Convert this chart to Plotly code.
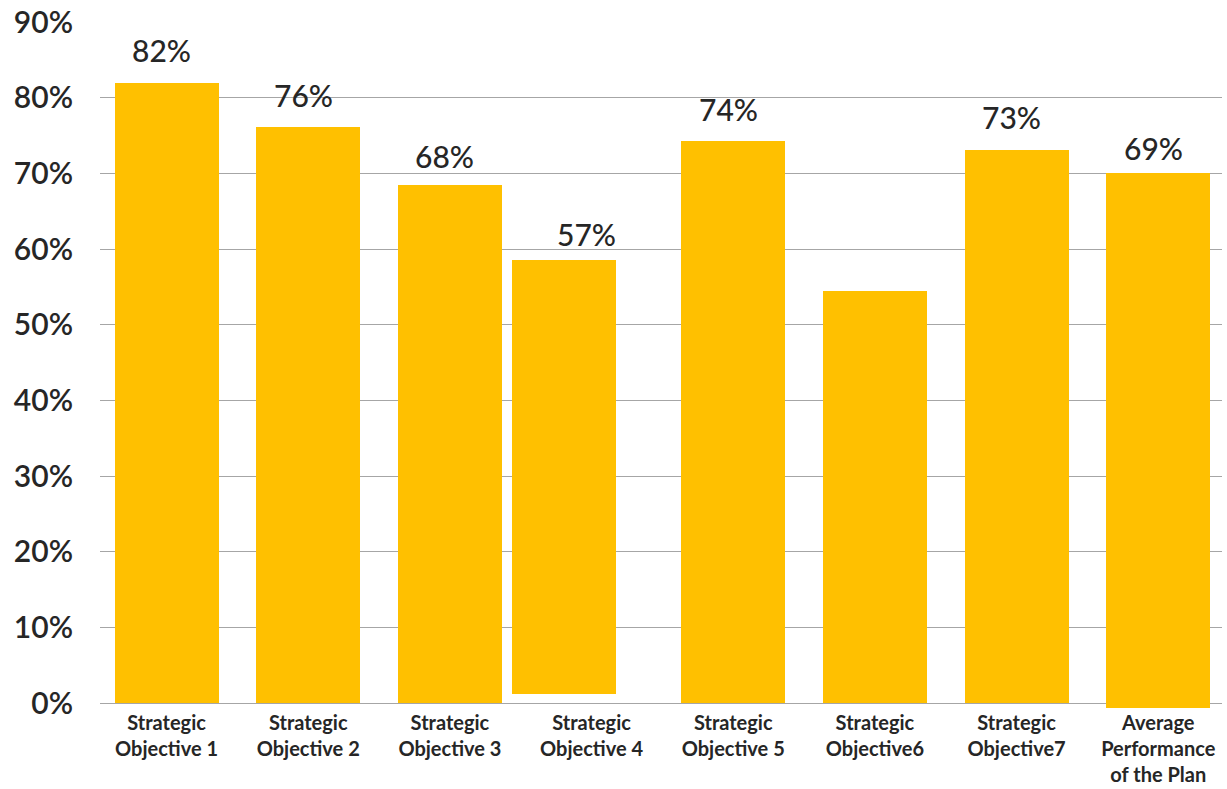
import plotly.graph_objects as go

# ---- data ----
categories = [
    "Strategic<br>Objective 1",
    "Strategic<br>Objective 2",
    "Strategic<br>Objective 3",
    "Strategic<br>Objective 4",
    "Strategic<br>Objective 5",
    "Strategic<br>Objective6",
    "Strategic<br>Objective7",
    "Average<br>Performance<br>of the Plan",
]
bar_tops = [81.9, 76.1, 68.4, 58.6, 74.3, 54.4, 73.1, 70.0]
bar_bases = [0, 0, 0, 1.2, 0, 0, 0, -0.6]
value_labels = ["82%", "76%", "68%", "57%", "74%", "", "73%", "69%"]
y_ticks = [0, 10, 20, 30, 40, 50, 60, 70, 80, 90]
y_tick_text = ["0%", "10%", "20%", "30%", "40%", "50%", "60%", "70%", "80%", "90%"]

# ---- styling / layout helpers ----
GOLD = "#FFC000"
TEXT = "#262626"
bar_width = 0.734
bar_offsets = [-bar_width / 2] * len(categories)
bar_offsets[3] = -bar_width / 2 - 0.198
label_yshift = [33, 32, 29, 26, 32, 0, 33, 25]

fig = go.Figure()
fig.add_trace(go.Bar(
    x=list(range(len(categories))),
    y=[t - b for t, b in zip(bar_tops, bar_bases)],
    base=bar_bases,
    width=bar_width,
    offset=bar_offsets,
    marker=dict(color=GOLD, line=dict(width=0)),
    hoverinfo="skip",
))

for i, (lab, top) in enumerate(zip(value_labels, bar_tops)):
    if not lab:
        continue
    fig.add_annotation(
        x=i, y=top, text=lab, showarrow=False,
        xanchor="center", yanchor="middle",
        xshift=-5, yshift=label_yshift[i],
        font=dict(family="Lato", size=30, color=TEXT, weight=500),
    )

fig.update_layout(
    width=1227, height=789,
    margin=dict(l=100, r=5, t=22, b=81),
    paper_bgcolor="white", plot_bgcolor="white",
    showlegend=False,
    bargap=0,
    xaxis=dict(
        tickmode="array",
        tickvals=list(range(len(categories))),
        ticktext=categories,
        range=[-0.47, 7.45],
        automargin=False,
        showgrid=False, zeroline=False, showline=False,
        ticks="", ticklabelstandoff=1,
        tickfont=dict(family="Lato", size=20, color=TEXT, weight=700),
    ),
    yaxis=dict(
        range=[-0.66, 90],
        automargin=False,
        tickmode="array", tickvals=y_ticks, ticktext=y_tick_text,
        showgrid=True, gridcolor="#A6A6A6", gridwidth=1.3,
        zeroline=True, zerolinecolor="#A6A6A6", zerolinewidth=1.3,
        showline=False, ticks="", ticklabelstandoff=26,
        tickfont=dict(family="Lato", size=30, color=TEXT, weight=600),
    ),
)

fig.write_html("out.html")
